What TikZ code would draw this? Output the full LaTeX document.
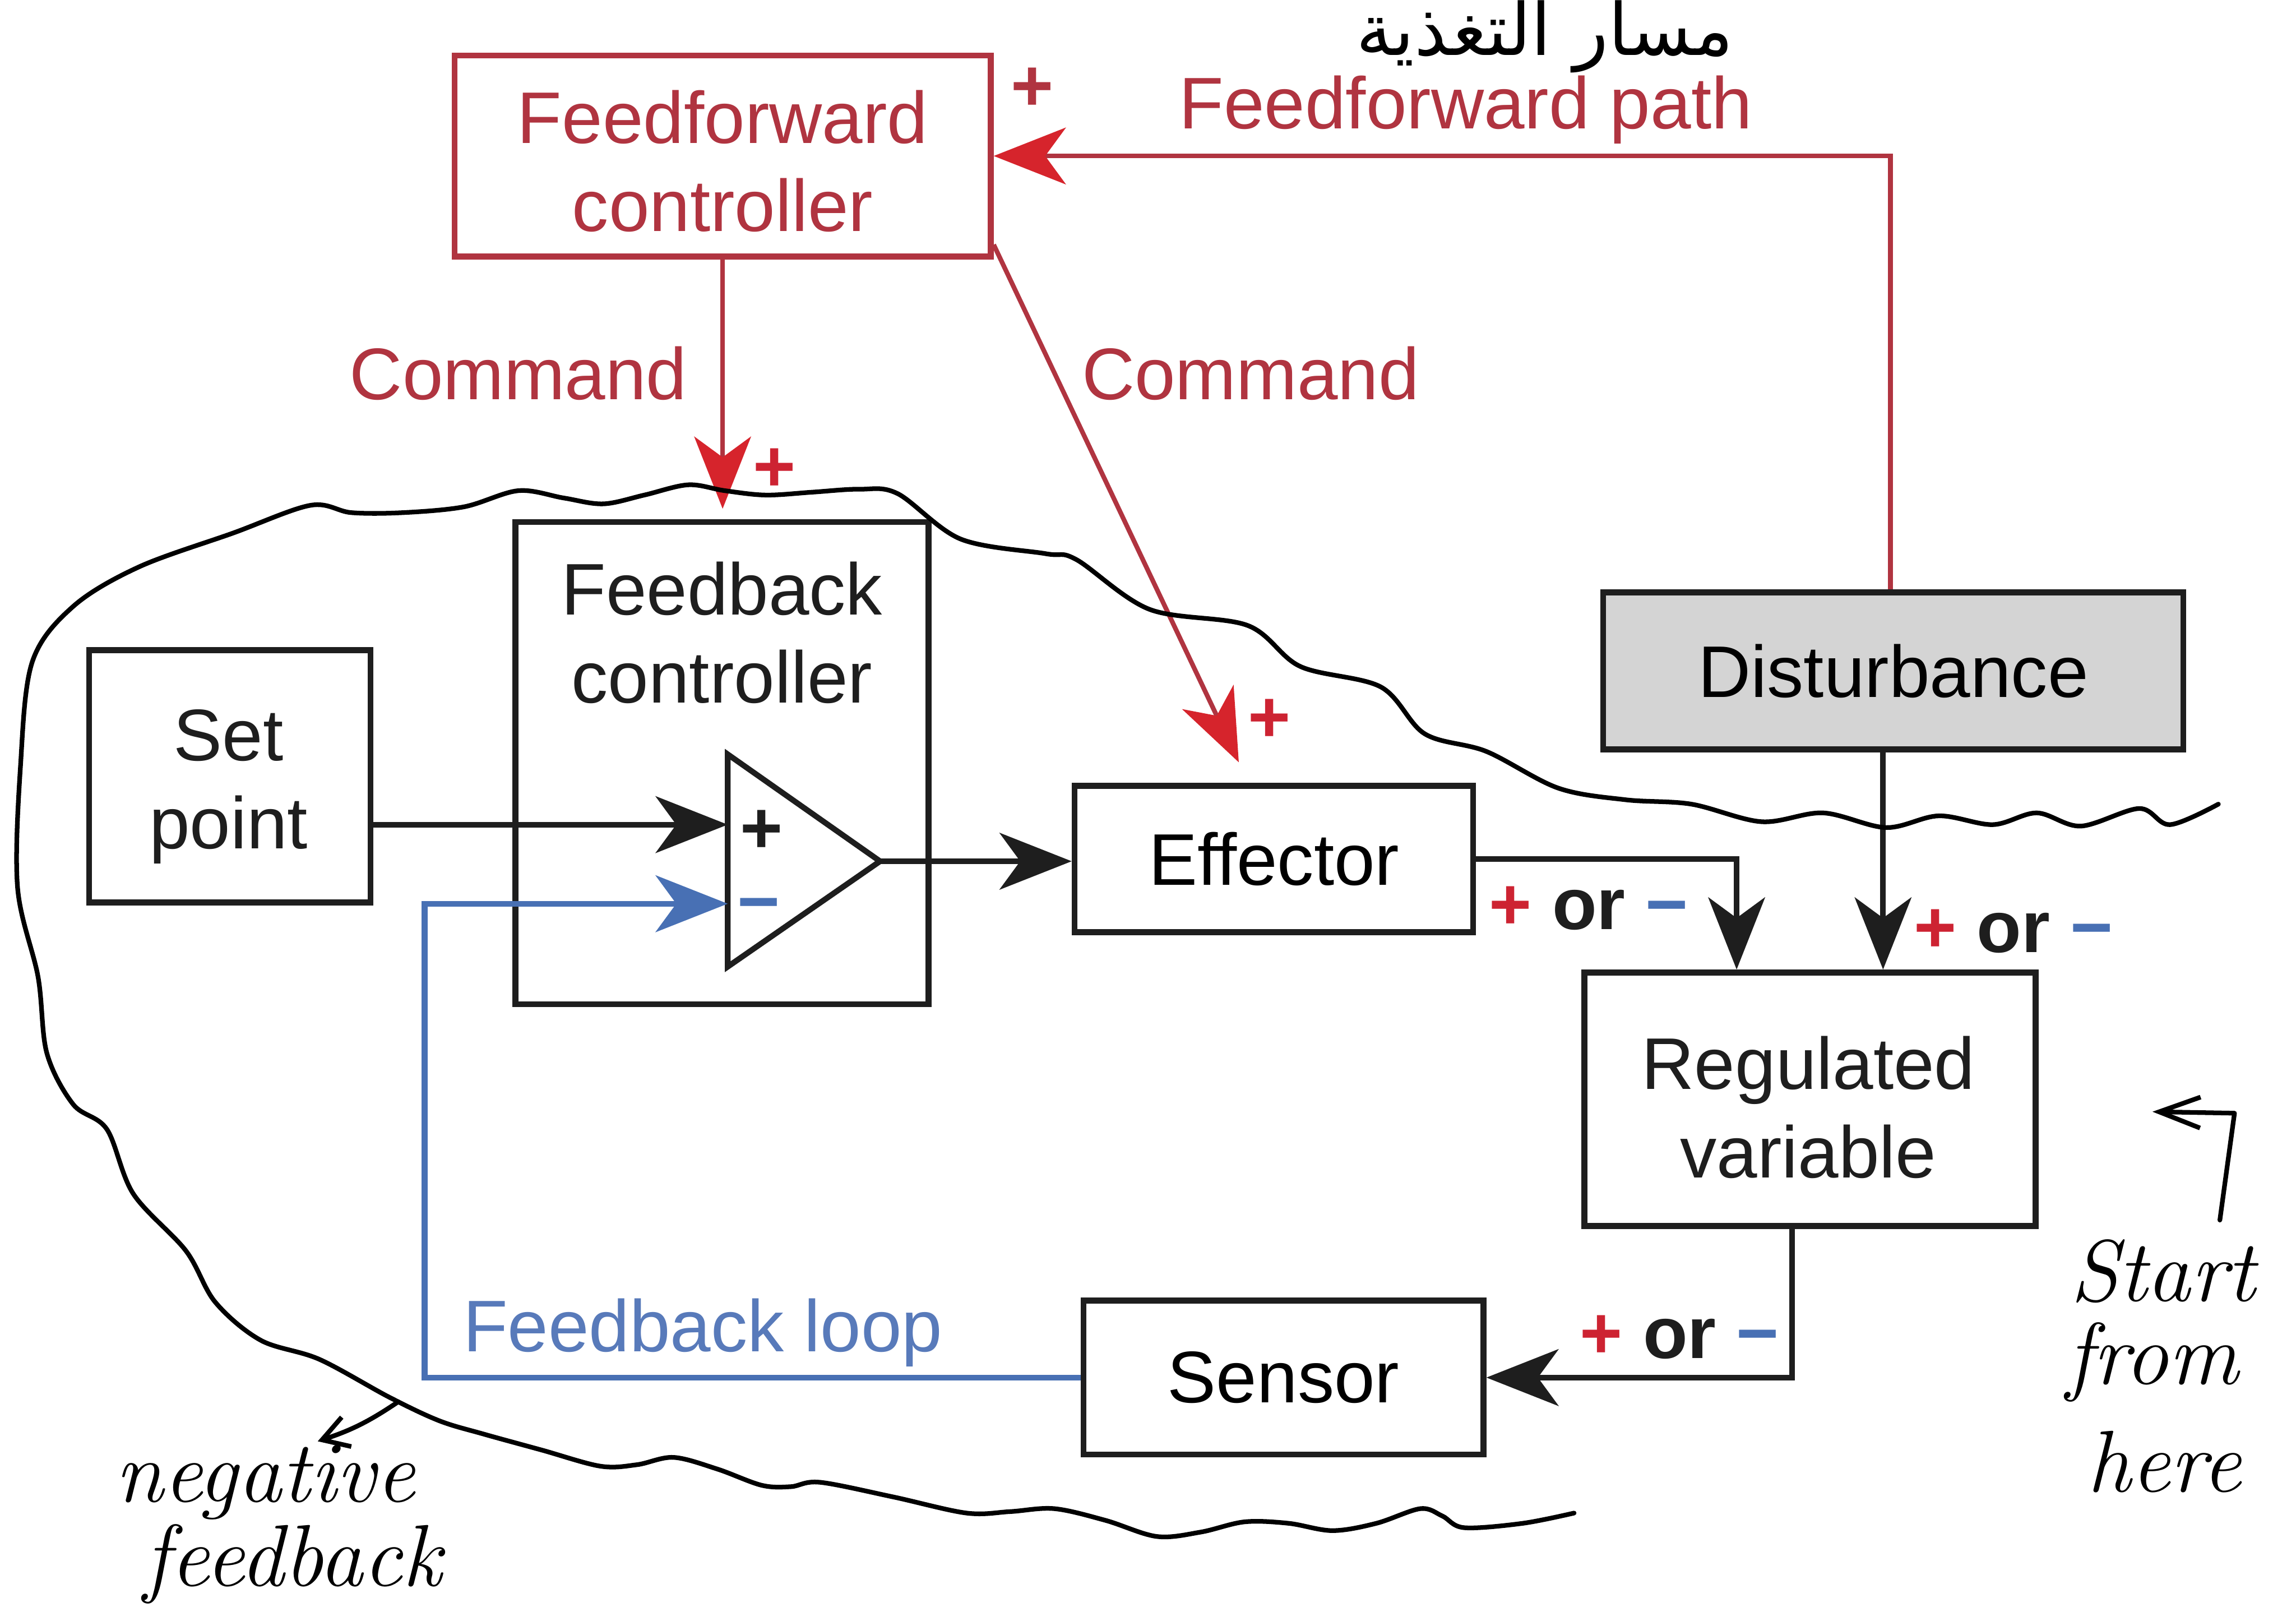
\documentclass[tikz,border=0pt]{standalone}
\usepackage{fontspec}
\usetikzlibrary{arrows.meta,calc}
\newfontfamily\sansfont{Liberation Sans}
\newfontfamily\arabicfont[Script=Arabic]{DejaVu Sans}
\TeXXeTstate=1
\definecolor{ffred}{RGB}{176,52,64}
\definecolor{arrred}{RGB}{214,36,44}
\definecolor{signred}{RGB}{205,35,50}
\definecolor{fbblue}{RGB}{72,112,180}
\definecolor{txtblue}{RGB}{88,122,186}
\definecolor{distgray}{RGB}{212,212,212}
\definecolor{boxblack}{RGB}{30,30,30}
\tikzset{
  lbl/.style={font=\sansfont\fontsize{14.2}{17.1}\selectfont, align=center, inner sep=0pt},
  blk/.style={draw=boxblack, line width=1.15pt, lbl},
  ffbox/.style={draw=ffred, line width=1.15pt, lbl, text=ffred},
  redline/.style={draw=ffred, line width=0.9pt},
  blkline/.style={draw=boxblack, line width=1.1pt},
  blueline/.style={draw=fbblue, line width=1.1pt},
  arr/.style={-{Stealth[length=14pt,width=11pt,inset=4pt]}},
  rarr/.style={-{Stealth[length=14pt,width=11pt,inset=4pt,color=arrred]}},
  barr/.style={-{Stealth[length=14pt,width=11pt,inset=4pt,color=fbblue]}},
  sign/.style={font=\sansfont\bfseries\fontsize{14.2}{17}\selectfont, inner sep=0pt},
  hand/.style={font=\itshape\fontsize{17}{19}\selectfont, inner sep=0pt},
  handline/.style={draw=black, line width=0.9pt, line cap=round, line join=round},
}
\begin{document}
\begin{tikzpicture}[x=0.01cm, y=-0.01cm]
\useasboundingbox (0,0) rectangle (1568,1097);

% ---------- boxes ----------
\node[ffbox, minimum width=3.66cm, minimum height=1.37cm] (ff) at (493.5,106.5) {};
\node[lbl, text=ffred] (fftext) at (493.5,110) {Feedforward\\controller};
\node[blk, minimum width=2.82cm, minimum height=3.29cm] (fb) at (493,521) {};
\node[lbl, text=boxblack] (fbtext) at (493,432) {Feedback\\controller};
\node[blk, minimum width=1.92cm, minimum height=1.72cm] (sp) at (157,530) {};
\node[lbl, text=boxblack] (sptext) at (156,537) {Set\\point};
\node[blk, minimum width=2.72cm, minimum height=1.00cm] (eff) at (870,586.5) {Effector};
\node[blk, fill=distgray, minimum width=3.96cm, minimum height=1.07cm] (dist) at (1293,458) {Disturbance};
\node[blk, minimum width=3.08cm, minimum height=1.73cm] (reg) at (1236,750.5) {};
\node[lbl, text=boxblack] (regtext) at (1235,756) {Regulated\\variable};
\node[blk, minimum width=2.73cm, minimum height=1.05cm] (sens) at (876.5,940.5) {Sensor};

% ---------- comparator ----------
\coordinate (tritop) at (497,515);
\coordinate (tribot) at (497,660);
\coordinate (tritip) at (601,588);
\coordinate (plusin) at (497,563);
\coordinate (minusin) at (497,617);
\draw[boxblack, line width=1.1pt, line join=miter] (tritop) -- (tritip) -- (tribot) -- cycle;
\node[sign, text=boxblack] (tplus) at (520,568) {+};
\node[sign, text=fbblue] (tminus) at (518,623) {−};

% ---------- red feedforward connectors ----------
\draw[redline, rarr] ($(dist.north)+(-2,0)$) |- (ff.east);
\draw[redline, rarr, shorten >=2pt] (ff.south) -- (ff.south |- fb.north);
\coordinate (diagstart) at ($(ff.south east)+(0,-10)$);
\coordinate (efftarget) at ($(eff.north)+(-24,-14)$);
\draw[redline, rarr] (diagstart) -- (efftarget);

% ---------- black connectors ----------
\draw[blkline, arr] (sp.east |- plusin) -- (plusin);
\draw[blkline, arr] (tritip) -- (eff.west |- tritip);
\draw[blkline, arr] (eff.east) -| ($(reg.north)+(-50,0)$);
\draw[blkline, arr] ($(dist.south)+(-7,0)$) -- ($(reg.north)+(50,0)$);
\draw[blkline, arr] ($(reg.south)+(-12,0)$) |- (sens.east);

% ---------- blue feedback loop ----------
\coordinate (fbcorner) at (290,940.5);
\draw[blueline, barr] (sens.west) -- (fbcorner) |- (minusin);

% ---------- labels ----------
\node[sign, text=ffred] (ffplus) at (705,61) {+};
\node[lbl, text=ffred] (ffpath) at (1001,75) {Feedforward path};
\node[lbl, text=ffred] (cmd1) at (354,255) {Command};
\node[lbl, text=ffred] (cmd2) at (854,255) {Command};
\node[sign, text=signred] (fbplus) at (529,321) {+};
\node[sign, text=signred] (effplus) at (867,492) {+};
\node[sign, text=boxblack] (or1) at (1085,620) {\textcolor{signred}{+} or \textcolor{fbblue}{−}};
\node[sign, text=boxblack] (or2) at (1375,636) {\textcolor{signred}{+} or \textcolor{fbblue}{−}};
\node[sign, text=boxblack] (or3) at (1147,913) {\textcolor{signred}{+} or \textcolor{fbblue}{−}};
\node[lbl, text=txtblue] (fbloop) at (480,910) {Feedback loop};

% ---------- handwritten annotations ----------
\node[font=\arabicfont\fontsize{14}{16}\selectfont, inner sep=0pt] (arab) at (1055,25) {\beginR مسار التغذية\endR};

\draw[handline] plot[smooth, tension=0.55] coordinates {
 (1075,1033) (1040,1040) (1000,1043) (985,1035) (970,1030) (940,1040) (910,1045)
 (880,1040) (850,1039) (820,1046) (790,1049) (755,1038) (720,1030) (690,1032)
 (660,1033) (610,1022) (560,1012) (540,1015) (520,1014) (490,1003) (460,995)
 (435,1000) (410,1001) (370,990) (330,979) (300,970) (266,954) (218,928)
 (178,915) (147,889) (127,854) (91,815) (73,771) (50,754) (32,719) (26,667)
 (12,606) (14,523) (22,452) (50,414) (95,387) (159,364) (212,345) (240,350)
 (275,350) (317,346) (354,335) (385,340) (412,344) (440,338) (470,331) (495,335)
 (523,338) (555,336) (587,334) (613,337) (656,368) (714,378) (735,382) (785,416)
 (852,427) (888,455) (943,469) (973,501) (1015,513) (1064,538) (1110,546)
 (1155,549) (1203,561) (1245,555) (1288,565) (1324,557) (1361,563) (1391,555)
 (1421,564) (1461,552) (1482,563) (1515,549)};

\coordinate (negtail) at (272,957);
\coordinate (neghead) at (217,984);
\draw[handline, -{Straight Barb[length=5pt,width=6pt]}] (negtail) to[bend left=8] (neghead);
\node[hand] (neg1) at (181,1012) {negative};
\node[hand] (neg2) at (200,1068) {feedback};

\coordinate (stail) at (1516,833);
\coordinate (scorner) at (1526,760);
\coordinate (shead) at (1470,759);
\draw[handline, -{Straight Barb[length=8pt,width=6pt]}] (stail) -- (scorner) -- (shead);
\node[hand] (st1) at (1477,868) {Start};
\node[hand] (st2) at (1470,930) {from};
\node[hand] (st3) at (1478,998) {here};
\end{tikzpicture}
\end{document}
